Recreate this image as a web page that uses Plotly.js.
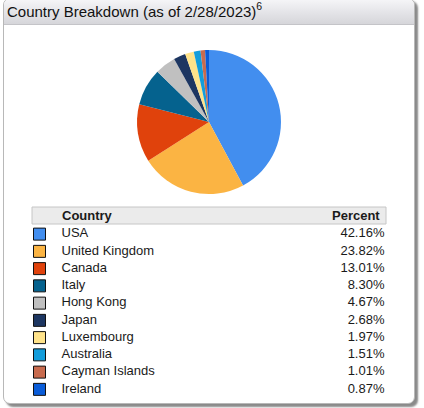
<!DOCTYPE html>
<html>
<head>
<meta charset="utf-8">
<script src="https://cdn.plot.ly/plotly-3.0.1.min.js"></script>
<style>
  html, body { margin: 0; padding: 0; background: #fff; }
  #card {
    position: absolute; left: 3px; top: -2px; width: 410px; height: 404px;
    border: 1px solid #b8b8b8; border-radius: 7px; background: #fff;
    box-shadow: 3px 3px 2px #8a8a8a; overflow: hidden;
  }
  #bar {
    height: 25px; border-bottom: 1px solid #c4c4c8;
    background: linear-gradient(#f6f6f8, #e2e2e6 60%, #d6d6da);
  }
  #chart { position: absolute; left: 0; top: 0; width: 424px; height: 408px; }
</style>
</head>
<body>
<div id="card"><div id="bar"></div></div>
<div id="chart"></div>
<script>
'use strict';

const countries = ['USA', 'United Kingdom', 'Canada', 'Italy', 'Hong Kong', 'Japan',
    'Luxembourg', 'Australia', 'Cayman Islands', 'Ireland'];
const percents = [42.16, 23.82, 13.01, 8.30, 4.67, 2.68, 1.97, 1.51, 1.01, 0.87];
const colors = ['#428eef', '#fbb443', '#e0420c', '#05628e', '#c0c0c0', '#1d3661',
    '#ffe38a', '#139ddb', '#c86b4e', '#0a5cd8'];

const W = 424, H = 408;
const FONT = 'Liberation Sans, Arial, sans-serif';
const px = y => 1 - y / H;   // pixel row -> paper fraction

const pie = {
    type: 'pie', labels: countries, values: percents, sort: false,
    direction: 'clockwise', rotation: 0,
    marker: { colors, line: { width: 0 } },
    textinfo: 'none', hoverinfo: 'skip', showlegend: false,
    domain: { x: [137 / W, 281 / W], y: [px(194), px(50)] },
};

// legend table: swatches, names and values on a category axis
const swatches = {
    type: 'scatter', mode: 'markers', x: countries.map(() => 39.5), y: countries,
    marker: { symbol: 'square', size: 12, color: colors, line: { color: '#111', width: 1 } },
    hoverinfo: 'skip', showlegend: false,
};
const names = {
    type: 'scatter', mode: 'text', x: countries.map(() => 61.5), y: countries,
    text: countries, textposition: 'middle right',
    textfont: { family: FONT, size: 13, color: '#1a1a1a' },
    hoverinfo: 'skip', showlegend: false,
};
const pcts = {
    type: 'scatter', mode: 'text', x: countries.map(() => 384.5), y: countries,
    text: percents.map(v => v.toFixed(2) + '%'), textposition: 'middle left',
    textfont: { family: FONT, size: 13, color: '#1a1a1a' },
    hoverinfo: 'skip', showlegend: false,
};

const layout = {
    width: W, height: H,
    margin: { l: 0, r: 0, t: 0, b: 0 },
    paper_bgcolor: 'rgba(0,0,0,0)', plot_bgcolor: 'rgba(0,0,0,0)',
    font: { family: FONT, color: '#1a1a1a' },
    title: {
        text: 'Country Breakdown (as of 2/28/2023)<sup>6</sup>',
        x: 7 / W, xanchor: 'left', y: px(11.5), yanchor: 'middle',
        font: { family: FONT, size: 15, color: '#111' },
    },
    xaxis: { range: [0, W], domain: [0, 1], visible: false, fixedrange: true },
    yaxis: {
        type: 'category', range: [9.5, -0.5], domain: [px(398), px(225.5)],
        visible: false, fixedrange: true,
    },
    shapes: [{
        type: 'rect', xref: 'x', yref: 'paper', x0: 32, x1: 386, y0: px(224), y1: px(207),
        fillcolor: '#ebebeb', line: { color: '#c6c6c6', width: 1 }, layer: 'below',
    }],
    annotations: [
        { text: '<b>Country</b>', xref: 'x', yref: 'paper', x: 60, y: px(215.5),
          xanchor: 'left', yanchor: 'middle', showarrow: false, font: { size: 13 } },
        { text: '<b>Percent</b>', xref: 'x', yref: 'paper', x: 382, y: px(215.5),
          xanchor: 'right', yanchor: 'middle', showarrow: false, font: { size: 13 } },
    ],
};

Plotly.newPlot('chart', [pie, swatches, names, pcts], layout, { displayModeBar: false, staticPlot: true });
</script>
</body>
</html>
